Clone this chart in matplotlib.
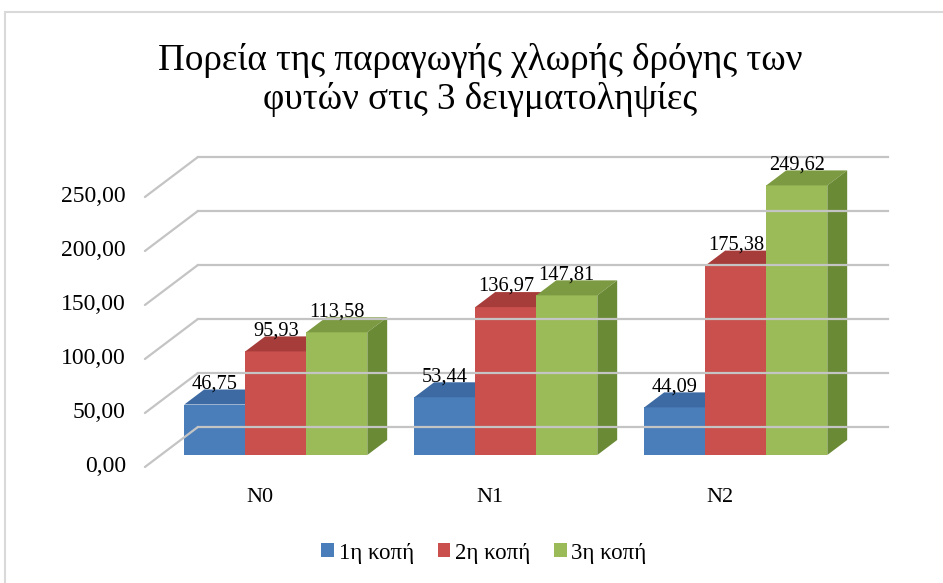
import matplotlib.pyplot as plt
from matplotlib.patches import Polygon, Rectangle, Patch

# data
categories = ['N0', 'N1', 'N2']
series = ['1η κοπή', '2η κοπή', '3η κοπή']
cut1 = [46.75, 53.44, 44.09]
cut2 = [95.93, 136.97, 175.38]
cut3 = [113.58, 147.81, 249.62]
yticks = [0, 50, 100, 150, 200, 250]

values = [cut1, cut2, cut3]
# front, top, side colours for each series
colors = [('#4a7ebb', '#3d6aa3', '#345b8c'),
          ('#c9504c', '#a63d3a', '#8c2f2d'),
          ('#9bbb59', '#7c9a41', '#6b8a36')]

plt.rcParams['font.family'] = ['Liberation Serif', 'DejaVu Serif']

W, H = 943, 583
px_cat = 230.0   # pixels per category
px_val = 1.08    # pixels per value unit
x0_px = 259.9    # pixel x of category 0 (front plane)
y0_px = 467.0    # pixel y of value 0 (front plane)

# oblique depth vector (full depth) in data units
DX = 53 / px_cat
DY = 40 / px_val
bar_w = 61 / px_cat
d_front, d_back = 0.3, 0.675

fig = plt.figure(figsize=(W / 100, H / 100), dpi=100)
ax = fig.add_axes([0, 0, 1, 1])
ax.set_xlim(-x0_px / px_cat, (W - x0_px) / px_cat)
ax.set_ylim((y0_px - H) / px_val, y0_px / px_val)
ax.axis('off')

# chart border
fig.patches.append(Rectangle((5 / W, -0.1), 1.2, 1.1 - 12 / H, transform=fig.transFigure,
                             fill=False, edgecolor='#d9d9d9', lw=1.5))

# gridlines: side wall diagonals + back wall lines
xl, xr = -0.5, len(categories) - 0.5
for v in yticks:
    ax.plot([xl, xl + DX], [v, v + DY], color='#c4c4c4', lw=1.6, solid_capstyle='round')
    ax.plot([xl + DX, xr + DX], [v + DY, v + DY], color='#c4c4c4', lw=1.6)
    ax.text(xl - 19 / px_cat, v, f'{v:.2f}'.replace('.', ','), ha='right', va='center',
            fontsize=17)

# 3d bars
for i in range(len(categories)):
    for j in range(len(series)):
        v = values[j][i]
        left = i - 1.5 * bar_w + j * bar_w
        fx, fy = left + d_front * DX, d_front * DY
        bx, by = left + d_back * DX, d_back * DY
        fc, tc, sc = colors[j]
        ax.add_patch(Polygon([(fx, fy), (fx + bar_w, fy), (fx + bar_w, fy + v), (fx, fy + v)],
                             closed=True, facecolor=fc, edgecolor='none'))
        ax.add_patch(Polygon([(fx, fy + v), (fx + bar_w, fy + v), (bx + bar_w, by + v), (bx, by + v)],
                             closed=True, facecolor=tc, edgecolor='none'))
        ax.add_patch(Polygon([(fx + bar_w, fy), (bx + bar_w, by), (bx + bar_w, by + v), (fx + bar_w, fy + v)],
                             closed=True, facecolor=sc, edgecolor='none'))
        ax.text(fx + bar_w / 2, by + v + 1, f'{v:.2f}'.replace('.', ','), ha='center',
                va='baseline', fontsize=14.7)

for i, c in enumerate(categories):
    ax.text(i, -30 / px_val, c, ha='center', va='center', fontsize=16)

fig.text(480 / W, 1 - 80 / H, 'Πορεία της παραγωγής χλωρής δρόγης των\nφυτών στις 3 δειγματοληψίες',
         ha='center', va='center', fontsize=26.7, linespacing=1.12)

handles = [Patch(facecolor=colors[j][0], label=series[j]) for j in range(len(series))]
fig.legend(handles=handles, loc='center', bbox_to_anchor=(484 / W, 1 - 553 / H), ncol=3,
           frameon=False, fontsize=16.5, handlelength=0.55, handleheight=0.55,
           handletextpad=0.2, columnspacing=1.05)

fig.savefig('out.png', dpi=100)
